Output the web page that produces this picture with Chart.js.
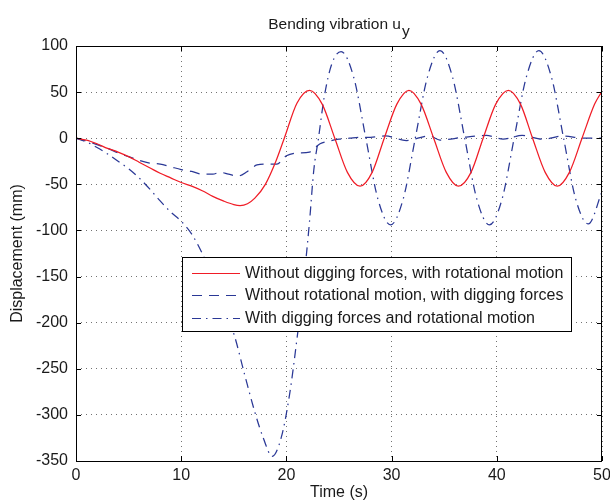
<!DOCTYPE html>
<html><head><meta charset="utf-8">
<script src="https://cdn.jsdelivr.net/npm/chart.js@4"></script>
<style>html,body{margin:0;padding:0;background:#fff}#wrap{width:610px;height:504px;position:relative}</style>
</head><body><div id="wrap"><canvas id="c" width="610" height="504"></canvas></div>
<script>
const titleMain = 'Bending vibration u';
const titleSub = 'y';
const xTitle = 'Time (s)';
const yTitle = 'Displacement (mm)';
const seriesNames = [
  'Without digging forces, with rotational motion',
  'Without rotational motion, with digging forces',
  'With digging forces and rotational motion'
];

// Series 1: solid red
const redT = [0,1,2,3,4,5,6,7,8,9,10,11,12,13,14,15,15.6,16.3,17,18,19,19.8,21,22.2,23.4,24.6,25.8,27.0,28.15,29.3,30.5,31.65,32.8,34.0,35.2,36.35,37.55,38.7,39.9,41.1,42.25,43.4,44.6,45.75,46.9,48.1,49.3,50];
const redY = [0,-2,-6,-11,-15,-20,-26,-32,-38,-43,-48,-52,-57,-63,-68,-72,-73,-71,-65,-50,-25,0,38,52,37,0,-37,-52,-37,0,37,52,37,0,-37,-52,-37,0,37,52,37,0,-37,-52,-37,0,37,51];

// Series 2: dashed blue
const dashT = [0,1,2,3,4,5,6,7,8,9,10,11,12,13,13.7,14.5,15.4,16.3,17.2,18.2,19.1,20,21,22.2,23.2,24.1,25,26,27,28,29.4,31.4,33.6,34.6,36.8,39,40.6,42.4,44.4,46.3,48.2,50];
const dashY = [0,-3,-7,-11,-16,-20,-24,-27,-28,-31,-34,-36,-39,-39,-37,-39,-41,-36,-29,-28,-28,-19,-16,-15,-6,-3,-1,0,1,1,2.5,-2.5,2.5,-2,1,3,-1,3,-1,2.5,0,0];

// Series 3: dash-dot blue
const ddT = [0,1,2,3,4,5,6,7,8,9,10,11,12,13,14,15,16,17,17.8,18.65,19.5,20.3,21,21.6,22.2,22.6,23.05,23.6,24.3,25.2,26.4,27.55,28.7,29.9,31.1,32.25,33.4,34.6,35.8,36.95,38.1,39.3,40.5,41.65,42.8,44.0,45.2,46.35,47.5,48.7,50];
const ddY = [0,-4,-10,-17,-25,-33,-43,-55,-68,-80,-90,-104,-125,-152,-185,-212,-255,-297,-325,-345,-325,-278,-218,-160,-90,-35,0,45,80,94,66,0,-66,-94,-66,0,66,95,66,0,-66,-94,-66,0,66,95,66,0,-66,-93,-58];

const xMin = 0, xMax = 50, xStep = 10;
const yMin = -350, yMax = 100, yStep = 50;

const RED = '#f01c26';
const BLUE = '#2a3896';
const FONT = "'Liberation Sans', Arial, sans-serif";
const TXT = '#1a1a1a';
const styles = [
  {color: RED, dash: []},
  {color: BLUE, dash: [10,7]},
  {color: BLUE, dash: [9,5,1.5,5]}
];

function pts(t, y) { return t.map((v, i) => ({x: v, y: y[i]})); }
const seriesData = [pts(redT, redY), pts(dashT, dashY), pts(ddT, ddY)];

const decor = {
  id: 'decor',
  afterDraw(chart) {
    const ctx = chart.ctx;
    const a = chart.chartArea;
    const xs = chart.scales.x, ys = chart.scales.y;
    ctx.save();
    // box
    ctx.strokeStyle = '#000';
    ctx.lineWidth = 1;
    ctx.setLineDash([]);
    ctx.strokeRect(Math.round(a.left) + 0.5, Math.round(a.top) + 0.5, Math.round(a.right - a.left) - 1, Math.round(a.bottom - a.top));
    // inward ticks
    const tl = 5;
    ctx.beginPath();
    xs.ticks.forEach(tk => {
      const px = Math.round(xs.getPixelForValue(tk.value)) + 0.5;
      ctx.moveTo(px, a.bottom); ctx.lineTo(px, a.bottom - tl);
      ctx.moveTo(px, a.top); ctx.lineTo(px, a.top + tl);
    });
    ys.ticks.forEach(tk => {
      const py = Math.round(ys.getPixelForValue(tk.value)) + 0.5;
      ctx.moveTo(a.left, py); ctx.lineTo(a.left + tl, py);
      ctx.moveTo(a.right, py); ctx.lineTo(a.right - tl, py);
    });
    ctx.stroke();
    // title with subscript
    ctx.fillStyle = TXT;
    ctx.textBaseline = 'alphabetic';
    ctx.textAlign = 'left';
    ctx.font = '15.5px ' + FONT;
    const wMain = ctx.measureText(titleMain).width;
    const wSub = ctx.measureText(titleSub).width;
    const cx = (a.left + a.right) / 2;
    const x0 = cx - (wMain + wSub + 1) / 2;
    ctx.fillText(titleMain, x0, 29);
    ctx.fillText(titleSub, x0 + wMain + 1, 36);
    // legend
    const L = {x: 182, y: 257, w: 389, h: 74};
    ctx.fillStyle = '#fff';
    ctx.fillRect(L.x, L.y, L.w, L.h);
    ctx.strokeStyle = '#000';
    ctx.strokeRect(L.x + 0.5, L.y + 0.5, L.w, L.h);
    const rows = [272.5, 295, 317.5];
    ctx.font = '16px ' + FONT;
    ctx.textBaseline = 'middle';
    seriesNames.forEach((n, i) => {
      ctx.strokeStyle = styles[i].color;
      ctx.lineWidth = 1.2;
      ctx.setLineDash(styles[i].dash);
      ctx.beginPath();
      ctx.moveTo(192, Math.round(rows[i]) + 0.5);
      ctx.lineTo(240, Math.round(rows[i]) + 0.5);
      ctx.stroke();
      ctx.setLineDash([]);
      ctx.fillStyle = TXT;
      ctx.fillText(n, 245, rows[i] + 1);
    });
    ctx.restore();
  }
};

new Chart(document.getElementById('c'), {
  type: 'line',
  data: {
    datasets: seriesData.map((d, i) => ({
      label: seriesNames[i],
      data: d,
      borderColor: styles[i].color,
      borderDash: styles[i].dash,
      borderWidth: 1.25,
      pointRadius: 0,
      fill: false,
      cubicInterpolationMode: 'monotone'
    }))
  },
  options: {
    responsive: false,
    animation: false,
    devicePixelRatio: 1,
    layout: {padding: {left: 0, right: 8, top: 46, bottom: 0}},
    plugins: {legend: {display: false}, title: {display: false}, tooltip: {enabled: false}},
    scales: {
      x: {
        type: 'linear', min: xMin, max: xMax,
        afterFit(s) { s.height = 43; s.paddingLeft = 0; s.paddingRight = 0; },
        ticks: {stepSize: xStep, padding: 5, color: TXT, font: {family: FONT, size: 16}, maxRotation: 0},
        grid: {color: 'rgba(0,0,0,0.55)', lineWidth: 1, drawTicks: false},
        border: {display: false, dash: [1,4]},
        title: {display: true, text: xTitle, color: TXT, font: {family: FONT, size: 16}, padding: {top: 0, bottom: 2}}
      },
      y: {
        type: 'linear', min: yMin, max: yMax,
        afterFit(s) { s.width = 76; s.paddingTop = 0; s.paddingBottom = 0; },
        ticks: {stepSize: yStep, padding: 8, color: TXT, font: {family: FONT, size: 16}},
        grid: {color: 'rgba(0,0,0,0.55)', lineWidth: 1, drawTicks: false},
        border: {display: false, dash: [1,4]},
        title: {display: true, text: yTitle, color: TXT, font: {family: FONT, size: 16}, padding: {top: 8, bottom: 0}}
      }
    }
  },
  plugins: [decor]
});
</script>
</body></html>
